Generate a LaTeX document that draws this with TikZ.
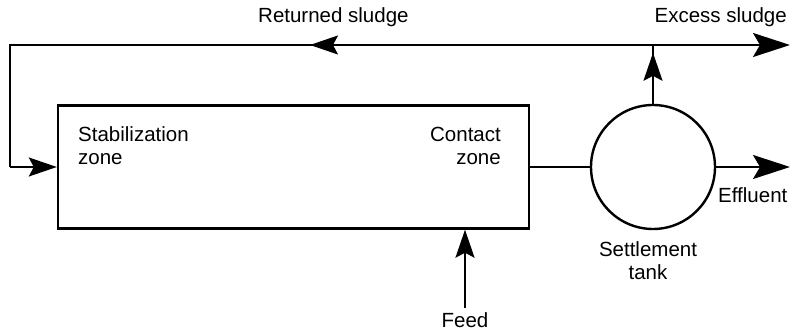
\documentclass[tikz,border=0pt]{standalone}
\usepackage{fontspec}
\setmainfont{Liberation Sans}
\usetikzlibrary{arrows.meta,decorations.markings}
\begin{document}
\begin{tikzpicture}[x=1pt,y=-1pt,
  line/.style={line width=2pt},
  bigtip/.style={-{Stealth[length=37pt,width=24pt,inset=7pt]}},
  smalltip/.style={-{Stealth[length=28pt,width=19pt,inset=5pt]}},
  lbl/.style={inner sep=0pt,font=\fontsize{20.5}{23}\selectfont},
  midarrow/.style={postaction={decorate},decoration={markings,
     mark=at position #1 with {\arrow{Stealth[length=28pt,width=19pt,inset=5pt]}}}}
]
\useasboundingbox (0,0) rectangle (793,336);
% main units
\node[draw,line width=2.4pt,minimum width=471pt,minimum height=123pt,inner sep=0pt] (box) at (293.5,167) {};
\node[draw,circle,line width=2.4pt,minimum size=124pt,inner sep=0pt] (tank) at (653,167) {};
% coordinates
\coordinate (j) at (653,45);
\coordinate (tl) at (10,45);
\coordinate (bl) at (10,167);
\coordinate (xs) at (790,45);
\coordinate (ef) at (790,167);
\coordinate (fd) at (465,308);
% connectors
\draw[line,midarrow=343pt] (j) -- (tl) -- (bl);
\draw[line,smalltip] (bl) -- (box.west);
\draw[line,midarrow=51pt] (tank.north) -- (j);
\draw[line,bigtip] (j) -- (xs);
\draw[line] (box.east) -- (tank.west);
\draw[line,bigtip] (tank.east) -- (ef);
\draw[line,smalltip] (fd) -- (fd |- box.south);
% labels
\node[lbl,anchor=base west] (lret) at (258,23) {Returned sludge};
\node[lbl,anchor=base east] (lexc) at (787,23) {Excess sludge};
\node[lbl,anchor=base west,align=left] (lstab) at (78,165) {Stabilization\\zone};
\node[lbl,anchor=base east,align=right] (lcon) at (501,165) {Contact\\zone};
\node[lbl,anchor=base west] (leff) at (718,203) {Effluent};
\node[lbl,anchor=base,align=center] (lset) at (648,280) {Settlement\\tank};
\node[lbl,anchor=base] (lfeed) at (465,328) {Feed};
\end{tikzpicture}
\end{document}
